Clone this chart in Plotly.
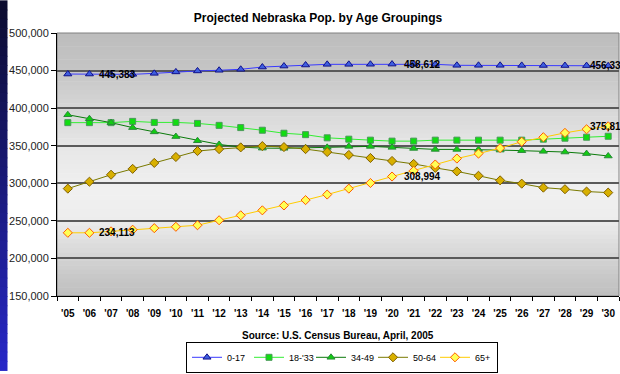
import numpy as np
import plotly.graph_objects as go

# Projected Nebraska population by age group, 2005-2030
years = ["'05", "'06", "'07", "'08", "'09", "'10", "'11", "'12", "'13", "'14",
         "'15", "'16", "'17", "'18", "'19", "'20", "'21", "'22", "'23", "'24",
         "'25", "'26", "'27", "'28", "'29", "'30"]

age_0_17 = [445383, 445400, 445100, 445000, 446300, 448200, 449500, 450400, 451700, 454700,
            456000, 457400, 458300, 458300, 458400, 458612, 458500, 458300, 457000, 457000,
            457000, 456900, 456800, 456700, 456600, 456331]
age_18_33 = [380700, 380700, 380700, 382400, 381000, 381000, 379700, 377100, 374100, 370600,
             366600, 364700, 360500, 358700, 357400, 356100, 356100, 357400, 357400, 357400,
             357400, 357400, 358700, 360000, 361300, 362600]
age_34_49 = [391200, 385900, 380700, 374100, 368400, 362200, 356600, 351700, 348200, 346800,
             346600, 347300, 347800, 349100, 349100, 347800, 346400, 345100, 345100, 345100,
             344200, 343400, 342500, 341600, 339500, 336300]
age_50_64 = [292900, 302100, 311400, 319200, 327100, 335000, 342900, 345500, 347800, 349500,
             348200, 345500, 341600, 337700, 333700, 329700, 325800, 320500, 315800, 310000,
             303900, 299500, 294200, 292100, 289000, 287600]
age_65_plus = [234113, 234100, 236000, 238200, 240300, 242100, 244200, 250800, 257400, 264000,
               270500, 277600, 285000, 292900, 300400, 308994, 316600, 325000, 332900, 339500,
               346800, 355300, 361300, 367100, 371900, 375812]

y_ticks = [150000, 200000, 250000, 300000, 350000, 400000, 450000, 500000]

series = [
    ("0-17", age_0_17, "#3a3aff", "triangle-up", "#3f5fe0", "#10108a", 7),
    ("18-'33", age_18_33, "#33ee33", "square", "#11dd11", "#4a9a5a", 6),
    ("34-49", age_34_49, "#0a7a0a", "triangle-up", "#11cc11", "#2a8a3a", 7),
    ("50-64", age_50_64, "#7a7a00", "diamond", "#d8b000", "#806000", 7),
    ("65+", age_65_plus, "#ffcc00", "diamond", "#ffff55", "#ff5a00", 7),
]

# Data labels: (series values, category index, horizontal pixel offset)
labels = [
    (age_0_17, 0, 29), (age_0_17, 15, 10), (age_0_17, 25, -20),
    (age_65_plus, 0, 29), (age_65_plus, 15, 10), (age_65_plus, 25, -20),
]

W, H = 620, 374
ML, MR, MT, MB = 57, 1, 33, 75
PW, PH = W - ML - MR, H - MT - MB
FONT = "Liberation Sans, Arial, sans-serif"

fig = go.Figure()
for name, vals, lc, sym, fc, oc, sz in series:
    fig.add_trace(go.Scatter(
        x=years, y=vals, name=name, mode="lines+markers",
        line=dict(color=lc, width=1),
        marker=dict(symbol=sym, size=sz, color=fc, line=dict(color=oc, width=1)),
    ))

shapes = []

# vertical grey gradient behind the plot area
stops_f = [0.0, 0.15, 0.30, 0.45, 0.60, 0.70, 0.80, 0.90, 1.0]
stops_g = [188, 198, 216, 232, 240, 238, 222, 204, 190]
n = 60
for i in range(n):
    f0, f1 = i / n, (i + 1) / n
    g = int(round(np.interp((f0 + f1) / 2, stops_f, stops_g)))
    shapes.append(dict(type="rect", xref="paper", yref="paper", layer="below",
                       x0=0, x1=1, y0=1 - f1 - 0.002, y1=1 - f0,
                       fillcolor=f"rgb({g},{g},{g})", line=dict(width=0)))
# plot area frame
shapes.append(dict(type="rect", xref="paper", yref="paper", layer="below",
                   x0=0, x1=1, y0=0, y1=1, fillcolor="rgba(0,0,0,0)",
                   line=dict(color="#808080", width=1)))

# dark blue strip on the left edge of the page
sx0, sx1 = -ML / PW, -(ML - 7.5) / PW
sy_bot, sy_top = -MB / PH, 1 + MT / PH
m = 40
for i in range(m):
    t = (i + 0.5) / m
    r = int(12 + (40 - 12) * t)
    gg = int(12 + (40 - 12) * t)
    b = int(46 + (200 - 46) * t)
    y1 = sy_top - (sy_top - sy_bot) * i / m
    y0 = sy_top - (sy_top - sy_bot) * (i + 1) / m - 0.003
    shapes.append(dict(type="rect", xref="paper", yref="paper", layer="below",
                       x0=sx0, x1=sx1, y0=y0, y1=y1,
                       fillcolor=f"rgb({r},{gg},{b})", line=dict(width=0)))

annotations = []
for vals, idx, dx in labels:
    annotations.append(dict(
        x=years[idx], y=vals[idx], xref="x", yref="y", text=f"<b>{vals[idx]:,}</b>",
        showarrow=False, xanchor="left", yanchor="middle", xshift=dx,
        font=dict(family=FONT, size=10, color="black")))

annotations.append(dict(
    x=0.5, y=0, xref="paper", yref="paper", yanchor="middle", yshift=-39,
    text="<b>Source: U.S. Census Bureau, April, 2005</b>", showarrow=False,
    font=dict(family=FONT, size=10, color="black")))

fig.update_layout(
    width=W, height=H,
    margin=dict(l=ML, r=MR, t=MT, b=MB),
    paper_bgcolor="white", plot_bgcolor="rgba(0,0,0,0)",
    title=dict(text="<b>Projected Nebraska Pop. by Age Groupings</b>",
               x=318 / W, y=1 - 18 / H, xanchor="center", yanchor="middle",
               font=dict(family=FONT, size=12, color="black")),
    font=dict(family=FONT, color="black"),
    showlegend=True,
    legend=dict(orientation="h", x=(342 - ML) / PW, y=-(361 - H + MB) / PH,
                xanchor="center", yanchor="middle",
                bordercolor="black", borderwidth=1, bgcolor="white",
                font=dict(family=FONT, size=9, color="black"),
                itemwidth=30, entrywidth=17, entrywidthmode="pixels",
                tracegroupgap=0),
    shapes=shapes, annotations=annotations,
)

fig.update_xaxes(
    type="category", range=[-0.5, len(years) - 0.5],
    showgrid=False, showline=True, linecolor="black", linewidth=1,
    ticks="outside", tickson="boundaries", ticklen=4, tickcolor="black",
    tickangle=0,
    tickfont=dict(family=FONT, size=10, color="black"),
    tickprefix="<b>", ticksuffix="</b>", ticklabelstandoff=8,
)
fig.update_yaxes(
    range=[150000, 500000], tickvals=y_ticks, tickformat=",",
    showgrid=True, gridcolor="#5a5a5a", gridwidth=1.5,
    showline=True, linecolor="black", linewidth=1,
    ticks="outside", ticklen=5, tickcolor="black", zeroline=False,
    tickfont=dict(family=FONT, size=11, color="#222222"),
)

fig.write_html("out.html")
